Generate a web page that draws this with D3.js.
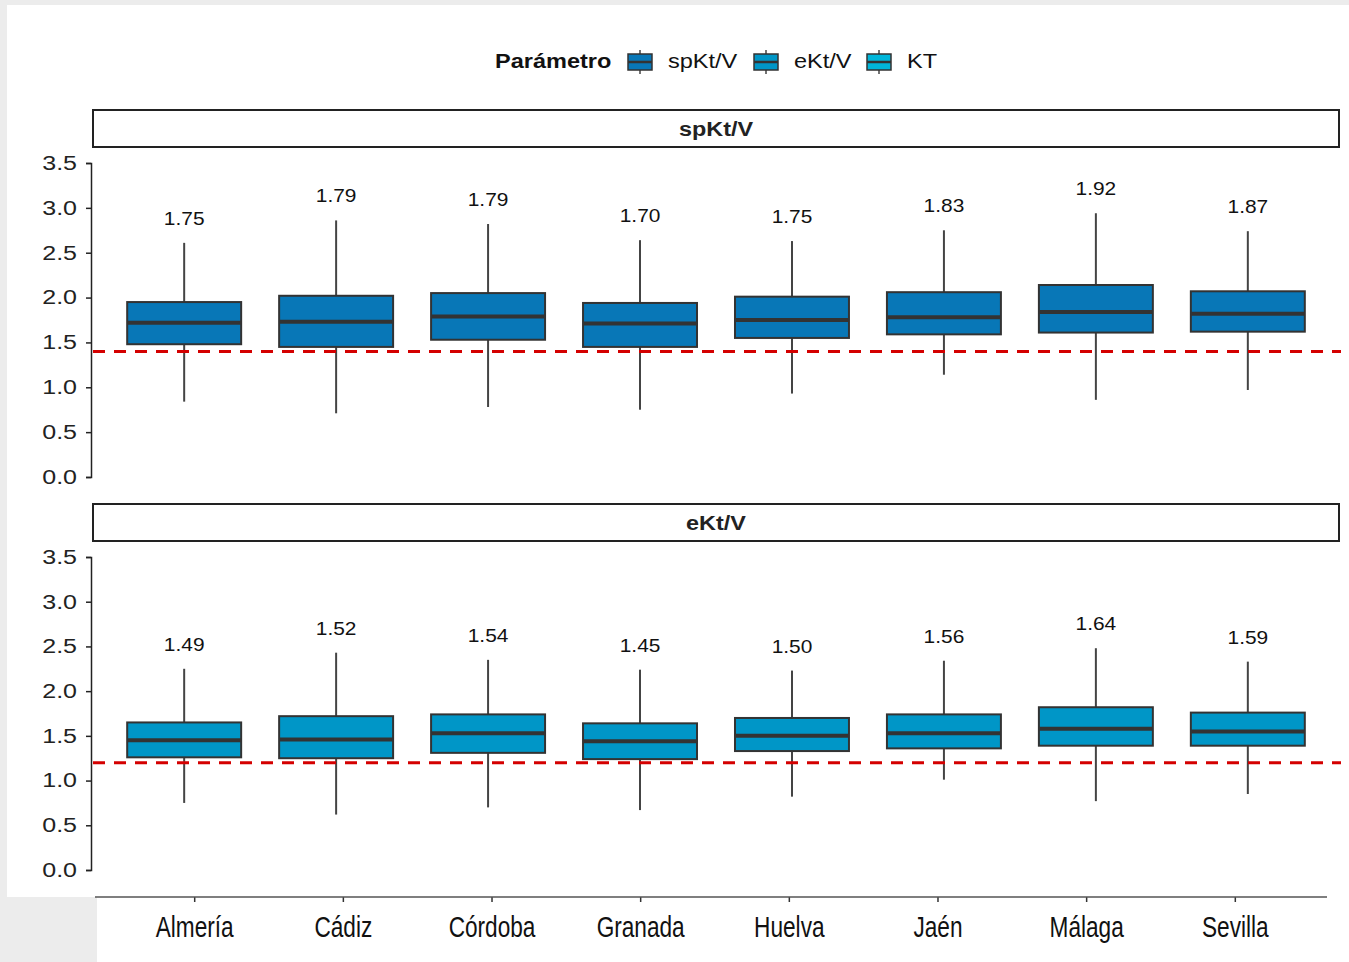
<!DOCTYPE html>
<html>
<head>
<meta charset="utf-8">
<script src="https://cdn.jsdelivr.net/npm/d3@7"></script>
<style>
  body { margin: 0; background: #ececec; }
  svg { display: block; }
</style>
</head>
<body>
<div id="chart"></div>
<script>
// categories
const provinces = ["Almería", "Cádiz", "Córdoba", "Granada", "Huelva", "Jaén", "Málaga", "Sevilla"];
const params = ["spKt/V", "eKt/V", "KT"];
const paramColors = ["#0877b7", "#0096c7", "#00b6da"];

// box stats per province: [low whisker, q1, median, q3, high whisker]
const spKtV = [
    [0.84, 1.48, 1.72, 1.95, 2.61],
    [0.71, 1.45, 1.73, 2.02, 2.86],
    [0.78, 1.53, 1.79, 2.05, 2.82],
    [0.75, 1.45, 1.71, 1.94, 2.64],
    [0.93, 1.55, 1.75, 2.01, 2.63],
    [1.14, 1.59, 1.78, 2.06, 2.75],
    [0.86, 1.61, 1.84, 2.14, 2.94],
    [0.97, 1.62, 1.82, 2.07, 2.74]
];
const spKtVMeans = ["1.75", "1.79", "1.79", "1.70", "1.75", "1.83", "1.92", "1.87"];

const eKtV = [
    [0.75, 1.26, 1.45, 1.65, 2.25],
    [0.62, 1.25, 1.46, 1.72, 2.43],
    [0.70, 1.31, 1.53, 1.74, 2.35],
    [0.67, 1.24, 1.44, 1.64, 2.24],
    [0.82, 1.33, 1.50, 1.70, 2.23],
    [1.01, 1.36, 1.53, 1.74, 2.34],
    [0.77, 1.39, 1.58, 1.82, 2.48],
    [0.85, 1.39, 1.55, 1.76, 2.33]
];
const eKtVMeans = ["1.49", "1.52", "1.54", "1.45", "1.50", "1.56", "1.64", "1.59"];

// adequacy thresholds (red dashed lines)
const thresholds = [1.4, 1.2];
const yTicks = [0, 0.5, 1, 1.5, 2, 2.5, 3, 3.5];

const width = 1349, height = 962;

const svg = d3.select("#chart").append("svg")
    .attr("width", width)
    .attr("height", height);

// stretches text horizontally, the source image is not at its native aspect
function stretch(sel, factor) {
    sel.each(function() {
        const w = this.getComputedTextLength();
        d3.select(this).attr("textLength", w * factor).attr("lengthAdjust", "spacingAndGlyphs");
    });
}

// white page area
svg.append("rect").attr("x", 7).attr("y", 5).attr("width", width - 7).attr("height", 892).attr("fill", "#fff");
svg.append("rect").attr("x", 97).attr("y", 897).attr("width", width - 97).attr("height", height - 897).attr("fill", "#fff");

const fontMain = "'Liberation Sans', Arial, sans-serif";

// legend
const legend = svg.append("g").attr("font-family", fontMain).attr("font-size", 21);
legend.append("text").attr("x", 495).attr("y", 68).attr("font-weight", "bold").attr("fill", "#111").text("Parámetro");
const keyX = [627, 753, 866];
params.forEach(function(p, i) {
    const g = legend.append("g").attr("transform", `translate(${keyX[i]},50)`);
    g.append("line").attr("x1", 13).attr("x2", 13).attr("y1", 0).attr("y2", 24).attr("stroke", "#444").attr("stroke-width", 1.5);
    g.append("rect").attr("x", 1).attr("y", 4).attr("width", 24).attr("height", 16)
        .attr("fill", paramColors[i]).attr("stroke", "#333").attr("stroke-width", 1.5);
    g.append("line").attr("x1", 1).attr("x2", 25).attr("y1", 12).attr("y2", 12).attr("stroke", "#333").attr("stroke-width", 2.5);
    g.append("text").attr("x", 41).attr("y", 18).attr("fill", "#111").text(p);
});
stretch(legend.selectAll("text"), 1.12);

// shared x scale for the panels
const x = d3.scalePoint().domain(provinces).range([93, 1339]).padding(0.6);
const boxW = x.step() * 0.75;

const panels = [
    { name: "spKt/V", data: spKtV, means: spKtVMeans, color: paramColors[0], thr: thresholds[0], stripY: 110, top: 163, bottom: 477 },
    { name: "eKt/V", data: eKtV, means: eKtVMeans, color: paramColors[1], thr: thresholds[1], stripY: 504, top: 557, bottom: 870 }
];

panels.forEach(function(p) {
    const y = d3.scaleLinear().domain([0, 3.5]).range([p.bottom, p.top]);
    const g = svg.append("g");

    // strip
    g.append("rect").attr("x", 93).attr("y", p.stripY).attr("width", 1246).attr("height", 37)
        .attr("fill", "#fff").attr("stroke", "#222").attr("stroke-width", 2);
    g.append("text").attr("x", 716).attr("y", p.stripY + 26).attr("text-anchor", "middle")
        .attr("font-family", fontMain).attr("font-size", 20).attr("font-weight", "bold").attr("fill", "#222").text(p.name)
        .call(stretch, 1.17);

    // y axis
    const yAxis = g.append("g").attr("transform", "translate(91,0)")
        .call(d3.axisLeft(y).tickValues(yTicks).tickFormat(d3.format(".1f")).tickSize(5).tickPadding(9));
    yAxis.select(".domain").attr("stroke", "#222").attr("stroke-width", 1.5);
    yAxis.selectAll(".tick line").attr("stroke", "#222").attr("stroke-width", 1.5);
    yAxis.selectAll("text").attr("font-family", fontMain).attr("font-size", 20).attr("fill", "#222")
        .call(stretch, 1.25);

    // boxes
    const boxes = g.selectAll(".box").data(p.data).enter().append("g")
        .attr("transform", (d, i) => `translate(${x(provinces[i])},0)`);
    boxes.append("line").attr("x1", 0).attr("x2", 0)
        .attr("y1", d => y(d[4])).attr("y2", d => y(d[3]))
        .attr("stroke", "#444").attr("stroke-width", 2);
    boxes.append("line").attr("x1", 0).attr("x2", 0)
        .attr("y1", d => y(d[1])).attr("y2", d => y(d[0]))
        .attr("stroke", "#444").attr("stroke-width", 2);
    boxes.append("rect").attr("x", -boxW / 2).attr("width", boxW)
        .attr("y", d => y(d[3])).attr("height", d => y(d[1]) - y(d[3]))
        .attr("fill", p.color).attr("stroke", "#333").attr("stroke-width", 2);
    boxes.append("line").attr("x1", -boxW / 2).attr("x2", boxW / 2)
        .attr("y1", d => y(d[2])).attr("y2", d => y(d[2]))
        .attr("stroke", "#333").attr("stroke-width", 4);
    boxes.append("text").attr("text-anchor", "middle")
        .attr("y", d => y(d[4]) - 18)
        .attr("font-family", fontMain).attr("font-size", 19).attr("fill", "#111")
        .text((d, i) => p.means[i])
        .call(stretch, 1.1);

    // threshold line
    g.append("line").attr("x1", 93).attr("x2", 1341)
        .attr("y1", y(p.thr)).attr("y2", y(p.thr))
        .attr("stroke", "#d40000").attr("stroke-width", 3).attr("stroke-dasharray", "12,9");
});

// bottom x axis
const xb = d3.scalePoint().domain(provinces).range([105, 1324]).padding(0.6);
const xAxis = svg.append("g").attr("transform", "translate(0,897)")
    .call(d3.axisBottom(xb).tickSize(5).tickPadding(14));
xAxis.select(".domain").remove();
svg.append("line").attr("x1", 95).attr("x2", 1327).attr("y1", 897).attr("y2", 897)
    .attr("stroke", "#555").attr("stroke-width", 1.5);
xAxis.selectAll(".tick line").attr("stroke", "#333").attr("stroke-width", 1.5);
xAxis.selectAll("text").attr("font-family", fontMain)
    .attr("font-size", 29).attr("fill", "#111")
    .call(stretch, 0.78);
</script>
</body>
</html>
